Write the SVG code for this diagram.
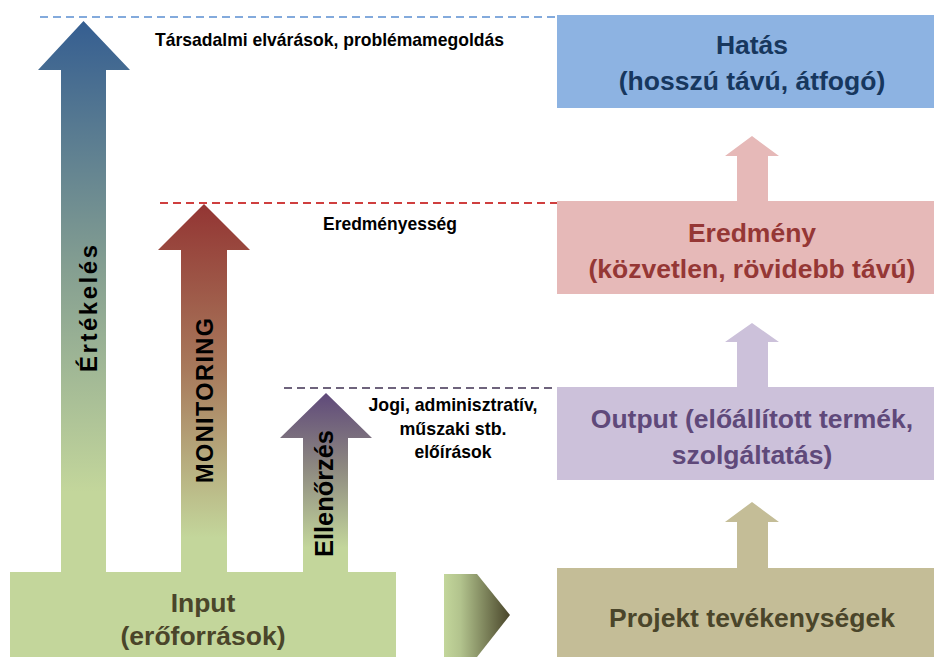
<svg xmlns="http://www.w3.org/2000/svg" width="934" height="657" viewBox="0 0 934 657">
<style>
.box{font-family:"Liberation Sans",Arial,sans-serif;font-weight:bold;font-size:26.5px;text-anchor:middle}
.lbl{font-family:"Liberation Sans Narrow","Liberation Sans",Arial,sans-serif;font-weight:bold;font-size:19px;fill:#000;text-anchor:middle}
.vt{font-family:"Liberation Sans",Arial,sans-serif;font-weight:bold;font-size:25.5px;fill:#000;text-anchor:middle}
.dash{fill:none;stroke-width:1.5;stroke-dasharray:8 5}
</style>
<defs>
<linearGradient id="gBlue" x1="0" y1="0" x2="0" y2="1">
<stop offset="0" stop-color="#355e91"/>
<stop offset="0.45" stop-color="#859f91"/>
<stop offset="0.85" stop-color="#c3d69b"/>
</linearGradient>
<linearGradient id="gRed" x1="0" y1="0" x2="0" y2="1">
<stop offset="0" stop-color="#933533"/>
<stop offset="0.45" stop-color="#a87a5c"/>
<stop offset="0.9" stop-color="#c3d69b"/>
</linearGradient>
<linearGradient id="gPurple" x1="0" y1="0" x2="0" y2="1">
<stop offset="0" stop-color="#5f497a"/>
<stop offset="0.4" stop-color="#8c8780"/>
<stop offset="0.85" stop-color="#c3d69b"/>
</linearGradient>
<linearGradient id="gChev" x1="0" y1="0" x2="1" y2="0">
<stop offset="0" stop-color="#c3d69b"/>
<stop offset="0.25" stop-color="#b2c38d"/>
<stop offset="1" stop-color="#49452a"/>
</linearGradient>
</defs>

<g id="guides">
<line class="dash" x1="40" y1="17" x2="557" y2="17" stroke="#5b8ed1"/>
<line class="dash" x1="160" y1="203" x2="557" y2="203" stroke="#c00000"/>
<line class="dash" x1="284" y1="388" x2="557" y2="388" stroke="#3f3151"/>
</g>

<g id="labels">
<text class="lbl" x="329.5" y="46" textLength="349" lengthAdjust="spacingAndGlyphs">Társadalmi elvárások, problémamegoldás</text>
<text class="lbl" x="390" y="230" textLength="134" lengthAdjust="spacingAndGlyphs">Eredményesség</text>
<text class="lbl" x="453" y="411" textLength="169" lengthAdjust="spacingAndGlyphs">Jogi, adminisztratív,</text>
<text class="lbl" x="453" y="435" textLength="107" lengthAdjust="spacingAndGlyphs">műszaki stb.</text>
<text class="lbl" x="453" y="458" textLength="77" lengthAdjust="spacingAndGlyphs">előírások</text>
</g>

<g id="connectors">
<polygon points="752,136 779,156 768,156 768,202 737,202 737,156 725,156" fill="#e6b9b8"/>
<polygon points="752,323 779,342 768,342 768,388 737,388 737,342 725,342" fill="#ccc1da"/>
<polygon points="752,502 779,522 768,522 768,569 737,569 737,522 725,522" fill="#c4bd97"/>
<polygon points="444,574 477,574 510,615 477,657 444,657" fill="url(#gChev)"/>
</g>

<g id="ertekeles">
<polygon points="83.5,21 130,70 106,70 106,575 61,575 61,70 38,70" fill="url(#gBlue)"/>
<text class="vt" style="font-size:24px" transform="translate(97,308.5) rotate(-90)" textLength="127">Értékelés</text>
</g>

<g id="monitoring">
<polygon points="204,204 250,250 227,250 227,575 181,575 181,250 158,250" fill="url(#gRed)"/>
<text class="vt" style="font-size:23.5px" transform="translate(213,400.5) rotate(-90)" textLength="165">MONITORING</text>
</g>

<g id="ellenorzes">
<polygon points="326,393 372,438 348,438 348,575 303,575 303,438 280,438" fill="url(#gPurple)"/>
<text class="vt" transform="translate(333,493.5) rotate(-90)" textLength="127" lengthAdjust="spacingAndGlyphs">Ellenőrzés</text>
</g>

<g id="input">
<rect x="10" y="572" width="386" height="90" fill="#c3d69b"/>
<text class="box" x="203" y="612" fill="#4a452a">Input</text>
<text class="box" x="203" y="645" fill="#4a452a">(erőforrások)</text>
</g>

<g id="hatas">
<rect x="557" y="15" width="390" height="93" fill="#8db3e2"/>
<text class="box" x="752" y="53.5" fill="#17375e">Hatás</text>
<text class="box" x="752" y="89.5" fill="#17375e">(hosszú távú, átfogó)</text>
</g>

<g id="eredmeny">
<rect x="557" y="201" width="390" height="93" fill="#e6b9b8"/>
<text class="box" x="752" y="241.5" fill="#953735">Eredmény</text>
<text class="box" x="752" y="277.5" fill="#953735">(közvetlen, rövidebb távú)</text>
</g>

<g id="output">
<rect x="557" y="387" width="390" height="93" fill="#ccc1da"/>
<text class="box" x="752" y="427.5" fill="#5f497a">Output (előállított termék,</text>
<text class="box" x="752" y="464" fill="#5f497a">szolgáltatás)</text>
</g>

<g id="projekt">
<rect x="557" y="568" width="390" height="93" fill="#c4bd97"/>
<text class="box" x="752" y="626.5" fill="#4a452a">Projekt tevékenységek</text>
</g>
</svg>
